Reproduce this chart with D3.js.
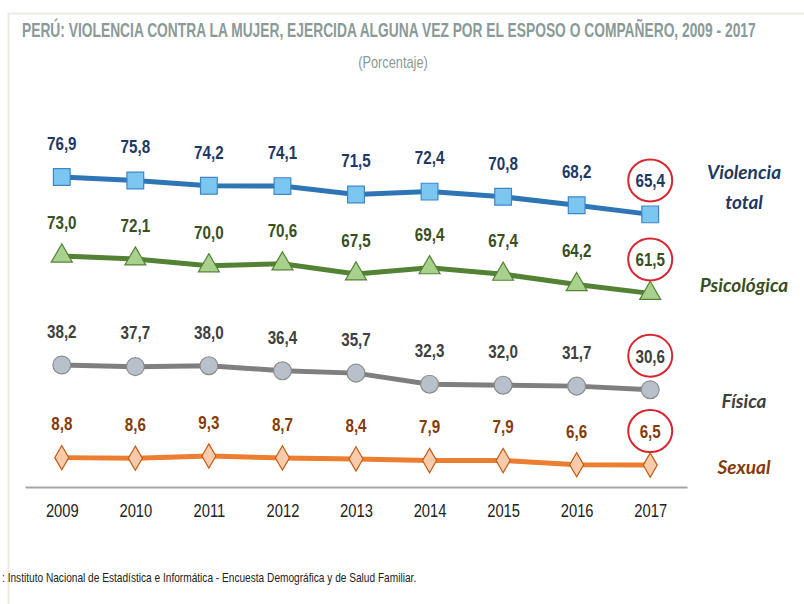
<!DOCTYPE html>
<html>
<head>
<meta charset="utf-8">
<script src="https://cdn.jsdelivr.net/npm/d3@7"></script>
<style>
  body { margin: 0; background: #fff; }
  svg { display: block; }
</style>
</head>
<body>
<div id="chart"></div>
<script>
// data
let years = ['2009', '2010', '2011', '2012', '2013', '2014', '2015', '2016', '2017']
let total = [76.9, 75.8, 74.2, 74.1, 71.5, 72.4, 70.8, 68.2, 65.4]
let psicologica = [73.0, 72.1, 70.0, 70.6, 67.5, 69.4, 67.4, 64.2, 61.5]
let fisica = [38.2, 37.7, 38.0, 36.4, 35.7, 32.3, 32.0, 31.7, 30.6]
let sexual = [8.8, 8.6, 9.3, 8.7, 8.4, 7.9, 7.9, 6.6, 6.5]
let seriesNames = ['Violencia total', 'Psicológica', 'Física', 'Sexual']

let width = 804
let height = 604
let narrowFont = '"Liberation Sans", Arial, sans-serif'

let series = [
  {name: seriesNames[0], values: total, line: '#2e75b6', fill: '#7cc6f2', stroke: '#3f86c6', text: '#1f3864', symbol: d3.symbolSquare, size: 280, label: ['Violencia', 'total'], ly: 172},
  {name: seriesNames[1], values: psicologica, line: '#548235', fill: '#a9d18e', stroke: '#548235', text: '#3a4f1e', symbol: d3.symbolTriangle, size: 190, label: ['Psicológica'], ly: 285},
  {name: seriesNames[2], values: fisica, line: '#7f7f7f', fill: '#b8c0cc', stroke: '#8c8c8c', text: '#404040', symbol: d3.symbolCircle, size: 250, label: ['Física'], ly: 401},
  {name: seriesNames[3], values: sexual, line: '#ed7d31', fill: '#f8cbad', stroke: '#c55a11', text: '#843c0c', symbol: d3.symbolDiamond, size: 170, label: ['Sexual'], ly: 467}
]

let svg = d3.select('#chart').append('svg')
  .attr('width', width)
  .attr('height', height)

// faint frame
svg.append('rect')
  .attr('x', 8.5).attr('y', 13.5)
  .attr('width', 820).attr('height', 620)
  .attr('fill', 'none')
  .attr('stroke', '#ebebe3')
  .attr('stroke-width', 2)

// condensed look: squeeze text horizontally
function squeeze (sel, x, y, sx) {
  return sel.attr('transform', 'translate(' + x + ',' + y + ') scale(' + sx + ',1)')
}

svg.append('text')
  .call(squeeze, 22, 37, 0.69)
  .attr('font-family', narrowFont)
  .attr('font-weight', 'bold')
  .attr('font-size', 20)
  .attr('fill', '#8a9a98')
  .text('PERÚ: VIOLENCIA CONTRA LA MUJER, EJERCIDA ALGUNA VEZ POR EL ESPOSO O COMPAÑERO, 2009 - 2017')

svg.append('text')
  .call(squeeze, 393, 68, 0.8)
  .attr('text-anchor', 'middle')
  .attr('font-family', narrowFont)
  .attr('font-size', 16)
  .attr('fill', '#8a9a98')
  .text('(Porcentaje)')

let x = d3.scalePoint().domain(years).range([25, 687]).padding(0.5)

// each series sits in its own band (broken axis): anchor of the max value + shared px per unit
let rowTop = d3.scaleOrdinal().domain(seriesNames).range([177, 256, 365, 456])
let unit = d3.scaleLinear().domain([0, 1]).range([0, 3.25])

series.forEach(function (s) {
  let top = d3.max(s.values)
  s.y = function (v) { return rowTop(s.name) + unit(top - v) }
})

let axis = svg.append('g')
  .attr('transform', 'translate(0,487)')
  .call(d3.axisBottom(x).tickSize(0).tickPadding(17))
axis.select('.domain').attr('stroke', '#a6a6a6').attr('stroke-width', 2)
axis.selectAll('text')
  .attr('transform', 'scale(0.82,1)')
  .attr('font-family', narrowFont)
  .attr('font-size', 18)
  .attr('fill', '#222')

let fmt = d3.format('.1f')

series.forEach(function (s) {
  let g = svg.append('g')
  let pts = s.values.map(function (v, i) { return {year: years[i], v: v} })

  g.append('path')
    .datum(pts)
    .attr('fill', 'none')
    .attr('stroke', s.line)
    .attr('stroke-width', 5)
    .attr('d', d3.line().x(function (d) { return x(d.year) }).y(function (d) { return s.y(d.v) }))

  g.selectAll('.mark')
    .data(pts)
    .enter()
    .append('path')
    .attr('transform', function (d) { return 'translate(' + x(d.year) + ',' + s.y(d.v) + ')' })
    .attr('d', d3.symbol().type(s.symbol).size(s.size))
    .attr('fill', s.fill)
    .attr('stroke', s.stroke)
    .attr('stroke-width', 1.2)

  g.selectAll('.lbl')
    .data(pts)
    .enter()
    .append('text')
    .attr('transform', function (d) { return 'translate(' + x(d.year) + ',' + (s.y(d.v) - 34) + ') scale(0.8,1)' })
    .attr('dy', '0.36em')
    .attr('text-anchor', 'middle')
    .attr('font-family', narrowFont)
    .attr('font-weight', 'bold')
    .attr('font-size', 19)
    .attr('fill', s.text)
    .text(function (d) { return fmt(d.v).replace('.', ',') })

  // red circle round the last value
  let last = pts[pts.length - 1]
  g.append('ellipse')
    .attr('cx', x(last.year))
    .attr('cy', s.y(last.v) - 34)
    .attr('rx', 22)
    .attr('ry', 21)
    .attr('fill', 'none')
    .attr('stroke', '#d9262e')
    .attr('stroke-width', 2)

  let t = svg.append('text')
    .attr('x', 744)
    .attr('y', s.ly)
    .attr('text-anchor', 'middle')
    .attr('font-family', 'Lato, sans-serif')
    .attr('font-style', 'italic')
    .attr('font-weight', 'bold')
    .attr('font-size', 19)
    .attr('fill', s.text)
  s.label.forEach(function (l, i) {
    t.append('tspan').attr('x', 744).attr('dy', i === 0 ? '0.36em' : 30).text(l)
  })
})

svg.append('text')
  .call(squeeze, 2, 582, 0.78)
  .attr('font-family', narrowFont)
  .attr('font-size', 13)
  .attr('fill', '#222')
  .text(': Instituto Nacional de Estadística e Informática - Encuesta Demográfica y de Salud Familiar.')
</script>
</body>
</html>
